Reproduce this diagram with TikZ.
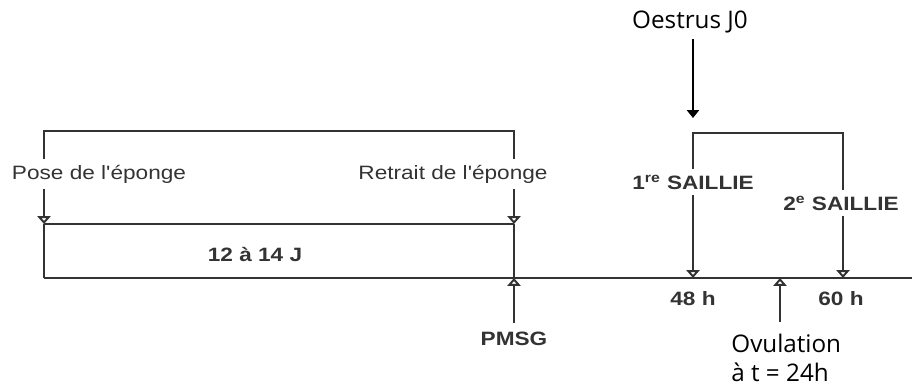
\documentclass[tikz,border=0pt]{standalone}
\usepackage{fontspec}
\setmainfont{Liberation Sans}
\newfontfamily\helv[FakeStretch=1.17]{Liberation Sans}
\newfontfamily\osans{Open Sans}
\usetikzlibrary{arrows.meta}
\definecolor{trace}{HTML}{333333}
\begin{document}
\begin{tikzpicture}[x=0.02cm,y=-0.02cm,
  trait/.style={draw=trace,line width=1.1pt},
  fleche/.style={trait,-{Triangle[open,width=7.5pt,length=4.5pt]}},
  etiq/.style={text=trace,inner xsep=1pt,inner ysep=3pt,font={\helv\fontsize{11}{13}\selectfont}},
  gras/.style={etiq,font={\helv\bfseries\fontsize{11}{13}\selectfont}},
  note/.style={font={\osans\fontsize{13.8}{16.5}\selectfont}}]
\useasboundingbox (0,0) rectangle (912,385);
\coordinate (tl) at (44,131); \coordinate (tr) at (514,131);
\coordinate (ml) at (44,224); \coordinate (mr) at (514,224);
\coordinate (d0) at (44,278); \coordinate (d1) at (514,278);
\coordinate (d48) at (693,278); \coordinate (d60) at (843,278);
\coordinate (dov) at (780,278); \coordinate (fin) at (912,278);
\coordinate (s1) at (693,133); \coordinate (s2) at (843,133);
\coordinate (j0) at (693,118);
\node[etiq] (pose) at (99,174) {Pose de l'éponge};
\node[etiq] (retrait) at (453,174) {Retrait de l'éponge};
\node[gras] (duree) at (255,255) {12 à 14 J};
\node[gras,inner ysep=5pt] (pmsg) at (514,339) {PMSG};
\node[gras] (sail1) at (693,182) {1\textsuperscript{re} SAILLIE};
\node[gras] (sail2) at (841,203) {2\textsuperscript{e} SAILLIE};
\node[gras] (h48) at (693,299) {48 h};
\node[gras] (h60) at (841,299) {60 h};
\node[note] (oestrus) at (690,22) {Oestrus J0};
\node[note,align=left,anchor=north west,inner xsep=0pt,inner ysep=6.5pt] (ovul) at (731,322) {Ovulation\\à t = 24h};
% eponge
\draw[trait] (pose.north -| tl) -- (tl) -- (tr) -- (retrait.north -| tr);
\draw[fleche] (pose.south -| ml) -- (ml);
\draw[fleche] (retrait.south -| mr) -- (mr);
\draw[trait] (ml) -- (mr) (ml) -- (d0) (mr) -- (d1);
\draw[trait] (d0) -- (fin);
\draw[fleche] (pmsg.north) -- (d1);
% saillies
\draw[trait] (sail1.north -| s1) -- (s1) -- (s2) -- (sail2.north -| s2);
\draw[fleche] (sail1.south -| d48) -- (d48);
\draw[fleche] (sail2.south -| d60) -- (d60);
\draw[fleche] (ovul.north -| dov) -- (dov);
\draw[line width=0.7pt,-{Triangle[width=7pt,length=4.5pt]}] (oestrus.south -| j0) -- (j0);
\end{tikzpicture}
\end{document}
